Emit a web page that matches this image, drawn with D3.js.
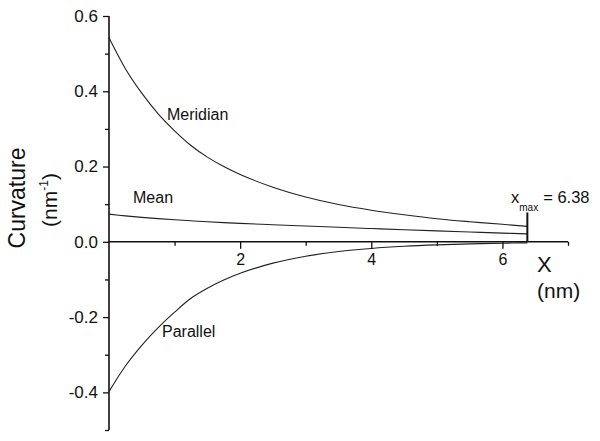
<!DOCTYPE html>
<html><head><meta charset="utf-8">
<script src="https://cdn.jsdelivr.net/npm/d3@7"></script>
<style>
html,body{margin:0;padding:0;background:#fff;}
text{font-family:"Liberation Sans",Arial,sans-serif;fill:#111;}
</style></head>
<body><svg id="c" width="600" height="441"></svg>
<script>
const xs = [0,0.25,0.5,0.75,1.0,1.25,1.5,1.75,2.0,2.5,3.0,3.5,4.0,4.5,5.0,5.5,6.0,6.38];
const meridian = [0.542,0.460,0.395,0.340,0.295,0.256,0.225,0.200,0.179,0.145,0.119,0.099,0.084,0.072,0.0615,0.0535,0.0465,0.041];
const parallel = [-0.398,-0.330,-0.275,-0.228,-0.187,-0.150,-0.1235,-0.1017,-0.0836,-0.0566,-0.0383,-0.0259,-0.0176,-0.0119,-0.0081,-0.0055,-0.0037,-0.0027];
const mean = [0.0735,0.069,0.065,0.0615,0.0585,0.0558,0.0533,0.051,0.049,0.0453,0.042,0.0386,0.0352,0.032,0.029,0.026,0.0232,0.021];
const xMajor = [2,4,6];
const xMinor = [1,3,5,7];
const yMajor = [-0.4,-0.2,0.0,0.2,0.4,0.6];
const yMinor = [-0.5,-0.3,-0.1,0.1,0.3,0.5];
const xmax = 6.38;

const svg = d3.select("#c");
const x = d3.scaleLinear().domain([0,7]).range([109,568]);
const y = d3.scaleLinear().domain([-0.5,0.6]).range([430,16]);

// curves
const line = d3.line().x(d=>x(d[0])).y(d=>y(d[1])).curve(d3.curveCatmullRom.alpha(0.5));
[meridian, mean, parallel].forEach(s=>{
  svg.append("path").attr("d", line(xs.map((v,i)=>[v,s[i]])))
    .attr("fill","none").attr("stroke","#222").attr("stroke-width",1.1);
});

const fontFam = "Liberation Sans, Arial, sans-serif";

// x axis at y=0
const gx = svg.append("g").attr("transform",`translate(0,${y(0)})`);
const gxMaj = gx.append("g").call(d3.axisBottom(x).tickValues(xMajor).tickSize(7).tickPadding(5).tickFormat(d3.format("d")));
const gxMin = gx.append("g").call(d3.axisBottom(x).tickValues(xMinor).tickSize(4).tickFormat(""));
gxMaj.select(".domain").attr("stroke","#111").attr("stroke-width",1.6).attr("d",`M${x(0)},0H${x(7)}`);
gxMin.select(".domain").remove();
gx.selectAll(".tick line").attr("stroke","#111").attr("stroke-width",1.3);
gxMaj.selectAll(".tick text").style("font-size","16px").style("font-family",fontFam).attr("fill","#111");

// y axis
const gy = svg.append("g").attr("transform",`translate(${x(0)},0)`);
const gyMaj = gy.append("g").call(d3.axisLeft(y).tickValues(yMajor).tickSize(6).tickPadding(5)
  .tickFormat(d=> d<0 ? "-"+Math.abs(d).toFixed(1) : d.toFixed(1)));
const gyMin = gy.append("g").call(d3.axisLeft(y).tickValues(yMinor).tickSize(4).tickFormat(""));
gyMaj.select(".domain").attr("stroke","#111").attr("stroke-width",1.6).attr("d",`M0,${y(0.6)}V${y(-0.5)}`);
gyMin.select(".domain").remove();
gy.selectAll(".tick line").attr("stroke","#111").attr("stroke-width",1.3);
gyMaj.selectAll(".tick text").style("font-size","17px").style("font-family",fontFam).attr("fill","#111");

// xmax marker
svg.append("line").attr("x1",x(xmax)).attr("x2",x(xmax)).attr("y1",y(0.078)).attr("y2",y(0))
  .attr("stroke","#111").attr("stroke-width",2);
const t = svg.append("text").attr("x",511).attr("y",203).style("font-size","16.5px");
t.append("tspan").text("x");
t.append("tspan").attr("dy",8).style("font-size","10px").text("max");
t.append("tspan").attr("dy",-8).attr("dx",5).text("= "+xmax.toFixed(2));

// series labels
svg.append("text").attr("x",167).attr("y",120).style("font-size","16px").text("Meridian");
svg.append("text").attr("x",133).attr("y",203).style("font-size","16px").text("Mean");
svg.append("text").attr("x",162).attr("y",337).style("font-size","16px").text("Parallel");

// axis titles
svg.append("text").attr("x",537).attr("y",272).style("font-size","22px").text("X");
svg.append("text").attr("x",537).attr("y",298).style("font-size","21px").text("(nm)");
svg.append("text").attr("transform","translate(25,198) rotate(-90)").attr("text-anchor","middle")
  .style("font-size","23px").text("Curvature");
const yl = svg.append("text").attr("transform","translate(57,200) rotate(-90)").attr("text-anchor","middle")
  .style("font-size","21px");
yl.append("tspan").text("(nm");
yl.append("tspan").attr("dy",-9).style("font-size","12px").text("-1");
yl.append("tspan").attr("dy",9).text(")");
</script></body></html>
